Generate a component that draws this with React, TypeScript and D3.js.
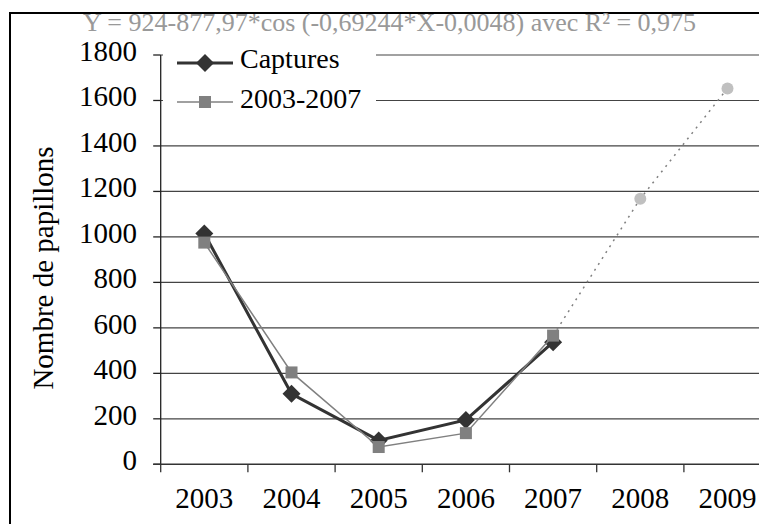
import { useEffect, useRef } from 'react';
import * as d3 from 'd3';

const years = ['2003', '2004', '2005', '2006', '2007', '2008', '2009'];
const captures = [1015, 310, 105, 195, 537];
const fitted = [975, 404, 76, 137, 566];
const forecastYears = ['2007', '2008', '2009'];
const forecastValues = [566, 1168, 1653];
const yTicks = [0, 200, 400, 600, 800, 1000, 1200, 1400, 1600, 1800];
const equation = 'Y = 924-877,97*cos (-0,69244*X-0,0048) avec R² = 0,975';

const FONT = '"Liberation Serif", "Times New Roman", serif';

export default function App() {
    const svgRef = useRef<SVGSVGElement>(null);
    const width = 759;
    const height = 524;

    useEffect(() => {
        if (!svgRef.current) return;
        const svg = d3.select(svgRef.current);
        svg.selectAll('*').remove();

        const left = 160.7;
        const bandW = 87.2;
        const x = d3.scaleBand<string>().domain(years).range([left, left + bandW * years.length]);
        const y = d3.scaleLinear().domain([0, 1800]).range([464.3, 55]);
        const cx = (yr: string) => x(yr)! + x.bandwidth() / 2;

        svg.append('rect').attr('width', width).attr('height', height).attr('fill', '#fff');

        // outer frame (only top and left visible)
        svg.append('path')
            .attr('d', `M10,${height} V13 H${width}`)
            .attr('fill', 'none')
            .attr('stroke', '#000')
            .attr('stroke-width', 2);

        // gridlines
        svg.append('g')
            .selectAll('line')
            .data(yTicks.filter(d => d > 0))
            .join('line')
            .attr('x1', left).attr('x2', width)
            .attr('y1', d => y(d)).attr('y2', d => y(d))
            .attr('stroke', '#444')
            .attr('stroke-width', 1.2);

        // y axis
        const ya = svg.append('g');
        ya.append('line')
            .attr('x1', left).attr('x2', left)
            .attr('y1', y(1800)).attr('y2', y(0))
            .attr('stroke', '#222').attr('stroke-width', 1.3);
        ya.selectAll('line.tick')
            .data(yTicks)
            .join('line')
            .attr('class', 'tick')
            .attr('x1', left - 7.5).attr('x2', left)
            .attr('y1', d => y(d)).attr('y2', d => y(d))
            .attr('stroke', '#222').attr('stroke-width', 1.3);
        ya.selectAll('text')
            .data(yTicks)
            .join('text')
            .attr('x', 137)
            .attr('y', d => y(d) + 6)
            .attr('text-anchor', 'end')
            .style('font-family', FONT)
            .style('font-size', '29px')
            .attr('fill', '#000')
            .text(d => d);

        // x axis
        const xa = svg.append('g');
        xa.append('line')
            .attr('x1', left - 7.5).attr('x2', width)
            .attr('y1', y(0)).attr('y2', y(0))
            .attr('stroke', '#333').attr('stroke-width', 1.5);
        xa.selectAll('line.tick')
            .data(years)
            .join('line')
            .attr('class', 'tick')
            .attr('x1', d => x(d)!).attr('x2', d => x(d)!)
            .attr('y1', y(0)).attr('y2', y(0) + 8)
            .attr('stroke', '#333').attr('stroke-width', 1.3);
        xa.selectAll('text')
            .data(years)
            .join('text')
            .attr('x', d => cx(d))
            .attr('y', 508)
            .attr('text-anchor', 'middle')
            .style('font-family', FONT)
            .style('font-size', '29px')
            .attr('fill', '#000')
            .text(d => d);

        // y label
        svg.append('text')
            .attr('transform', 'translate(53,268) rotate(-90)')
            .attr('text-anchor', 'middle')
            .style('font-family', FONT)
            .style('font-size', '29px')
            .attr('fill', '#000')
            .text('Nombre de papillons');

        const line = d3.line<[string, number]>().x(d => cx(d[0])).y(d => y(d[1]));
        const diamond = (s: number) => `M0,${-s} L${s},0 L0,${s} L${-s},0 Z`;

        // Captures
        const capData: [string, number][] = captures.map((v, i) => [years[i], v]);
        svg.append('path')
            .attr('d', line(capData)!)
            .attr('fill', 'none')
            .attr('stroke', '#333')
            .attr('stroke-width', 3);
        svg.append('g')
            .selectAll('path')
            .data(capData)
            .join('path')
            .attr('transform', d => `translate(${cx(d[0])},${y(d[1])})`)
            .attr('d', diamond(9))
            .attr('fill', '#333');

        // 2003-2007
        const fitData: [string, number][] = fitted.map((v, i) => [years[i], v]);
        svg.append('path')
            .attr('d', line(fitData)!)
            .attr('fill', 'none')
            .attr('stroke', '#808080')
            .attr('stroke-width', 1.5);
        svg.append('g')
            .selectAll('rect')
            .data(fitData)
            .join('rect')
            .attr('x', d => cx(d[0]) - 6)
            .attr('y', d => y(d[1]) - 6)
            .attr('width', 12).attr('height', 12)
            .attr('fill', '#808080');

        // forecast (dotted)
        const fcData: [string, number][] = forecastValues.map((v, i) => [forecastYears[i], v]);
        svg.append('path')
            .attr('d', line(fcData)!)
            .attr('fill', 'none')
            .attr('stroke', '#808080')
            .attr('stroke-width', 1.5)
            .attr('stroke-dasharray', '2,5');
        svg.append('g')
            .selectAll('circle')
            .data(fcData.slice(1))
            .join('circle')
            .attr('cx', d => cx(d[0]))
            .attr('cy', d => y(d[1]))
            .attr('r', 6)
            .attr('fill', '#c0c0c0');

        // legend
        const lg = svg.append('g');
        lg.append('rect')
            .attr('x', 163).attr('y', 40).attr('width', 213).attr('height', 82)
            .attr('fill', '#fff');
        lg.append('line')
            .attr('x1', 177).attr('x2', 233).attr('y1', 63).attr('y2', 63)
            .attr('stroke', '#333').attr('stroke-width', 3);
        lg.append('path')
            .attr('transform', 'translate(205,63)')
            .attr('d', diamond(9))
            .attr('fill', '#333');
        lg.append('line')
            .attr('x1', 177).attr('x2', 233).attr('y1', 102).attr('y2', 102)
            .attr('stroke', '#808080').attr('stroke-width', 1.5);
        lg.append('rect')
            .attr('x', 199).attr('y', 96).attr('width', 12).attr('height', 12)
            .attr('fill', '#808080');
        lg.selectAll('text')
            .data(['Captures', '2003-2007'])
            .join('text')
            .attr('x', 240)
            .attr('y', (d, i) => (i === 0 ? 68 : 108))
            .style('font-family', FONT)
            .style('font-size', '28px')
            .attr('fill', '#000')
            .text(d => d);

        // equation
        svg.append('text')
            .attr('x', 83)
            .attr('y', 31)
            .style('font-family', FONT)
            .style('font-size', '26px')
            .attr('fill', '#999')
            .text(equation);
    }, []);

    return (
        <svg
            ref={svgRef}
            width={width}
            height={height}
            style={{ position: 'absolute', left: 0, top: 0, display: 'block' }}
        />
    );
}
